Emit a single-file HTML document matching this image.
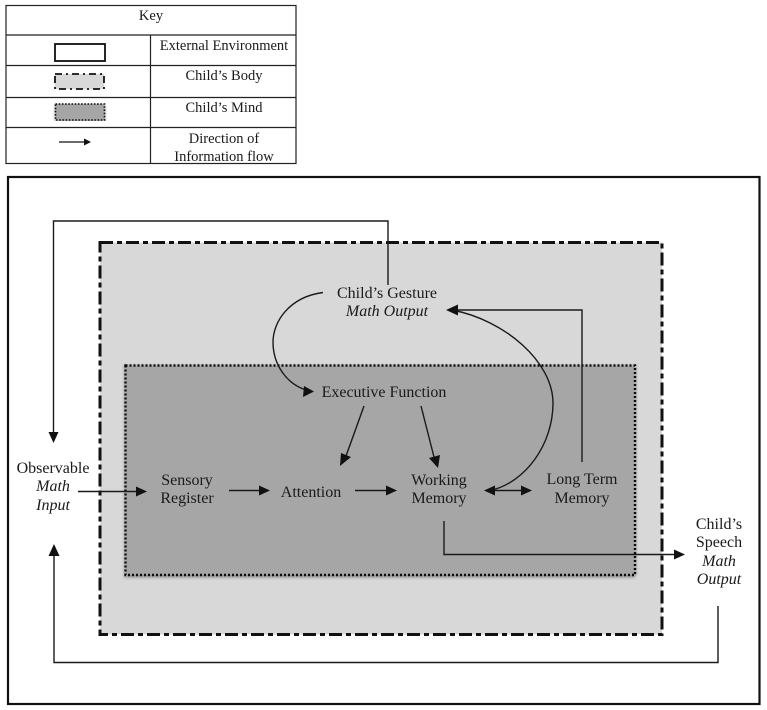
<!DOCTYPE html>
<html>
<head>
<meta charset="utf-8">
<style>
html,body{margin:0;padding:0;background:#fff;}
svg{display:block;}
text{font-family:"Liberation Serif",serif;font-size:16px;fill:#1a1a1a;text-anchor:middle;}
.s{font-size:14.5px;}
.i{font-style:italic;}
</style>
</head>
<body>
<svg width="767" height="710" viewBox="0 0 767 710" xmlns="http://www.w3.org/2000/svg">
<defs>
<filter id="sh" x="-5%" y="-5%" width="110%" height="110%"><feDropShadow dx="0" dy="1.500" stdDeviation="1.500" flood-color="#000" flood-opacity="0.4"/></filter>
</defs>

<!-- Key table -->
<g fill="none" stroke="#222" stroke-width="1.200">
<rect x="6" y="5.500" width="290" height="158"/>
<path d="M6 35H296M6 65.500H296M6 97.500H296M6 127.500H296M150.500 35V163.500"/>
</g>
<rect x="55" y="44" width="50" height="17" fill="#fff" stroke="#111" stroke-width="1.800"/>
<rect x="55" y="74" width="49" height="15" fill="#d8d8d8" stroke="#111" stroke-width="1.800" stroke-dasharray="7 4 2 4"/>
<rect x="55.500" y="104" width="49" height="16" fill="#a6a6a6" stroke="#111" stroke-width="1.600" stroke-dasharray="1.600 1.600" filter="url(#sh)"/>
<line x1="59" y1="142" x2="85" y2="142" stroke="#111" stroke-width="1.200"/>
<polygon points="91,142 84,138.500 84,145.500" fill="#111"/>
<text class="s" x="151" y="20">Key</text>
<text class="s" x="224" y="50">External Environment</text>
<text class="s" x="224" y="80">Child’s Body</text>
<text class="s" x="224" y="112">Child’s Mind</text>
<text class="s" x="224" y="143">Direction of</text>
<text class="s" x="224" y="161">Information flow</text>

<!-- Environment -->
<rect x="8" y="177" width="751.500" height="527" fill="#fff" stroke="#111" stroke-width="2.200"/>
<!-- Body -->
<rect x="100" y="242.500" width="562" height="392" fill="#d8d8d8" stroke="#111" stroke-width="3" stroke-dasharray="13 4 5 4"/>
<!-- Mind -->
<rect x="125.500" y="365.500" width="509.500" height="209.500" fill="#a6a6a6" stroke="#111" stroke-width="2.400" stroke-dasharray="2 2" filter="url(#sh)"/>

<!-- Connectors -->
<g fill="none" stroke="#1a1a1a" stroke-width="1.400">
<path d="M388 285V221H53.500V436"/>
<path d="M718 606V662.500H54V554"/>
<path d="M78 491.500H140"/>
<path d="M229 490.500H262"/>
<path d="M355 490.500H388"/>
<path d="M494 490.500H524"/>
<path d="M444 521V554.500H676"/>
<path d="M582 462V310H458"/>
<path d="M364 406L346 456"/>
<path d="M421 406L435 461"/>
<path d="M323 292.500C289 297 273 322 273 342C273 365 287 384 306 390"/>
<path d="M452 310C505 320 553 362 553 403C553 445 525 482 492 490"/>
</g>
<g fill="#111">
<polygon points="53.500,443 48.500,432 58.500,432"/>
<polygon points="54,544 48.500,556 59.500,556"/>
<polygon points="147,491.500 136,486.500 136,496.500"/>
<polygon points="270,490.500 259,485.500 259,495.500"/>
<polygon points="397,490.500 386,485.500 386,495.500"/>
<polygon points="484,490.500 495,485.500 495,495.500"/>
<polygon points="532,490.500 521,485.500 521,495.500"/>
<polygon points="685,554.500 674,549.500 674,559.500"/>
<polygon points="446,310 458,304.500 458,315.500"/>
<polygon points="340,466 341,453 351,457"/>
<polygon points="438,468 429,458 440,455"/>
<polygon points="314,391.500 303,397 304,386"/>
</g>

<!-- Labels -->
<text x="387" y="298">Child’s Gesture</text>
<text class="i" x="387" y="316">Math Output</text>
<text x="384" y="397">Executive Function</text>
<text x="53" y="473">Observable</text>
<text class="i" x="53" y="491">Math</text>
<text class="i" x="53" y="510">Input</text>
<text x="187" y="485">Sensory</text>
<text x="187" y="503">Register</text>
<text x="311" y="497">Attention</text>
<text x="439" y="485">Working</text>
<text x="439" y="503">Memory</text>
<text x="582" y="484">Long Term</text>
<text x="582" y="503">Memory</text>
<text x="719" y="529">Child’s</text>
<text x="719" y="547">Speech</text>
<text class="i" x="719" y="566">Math</text>
<text class="i" x="719" y="584">Output</text>
</svg>
</body>
</html>
